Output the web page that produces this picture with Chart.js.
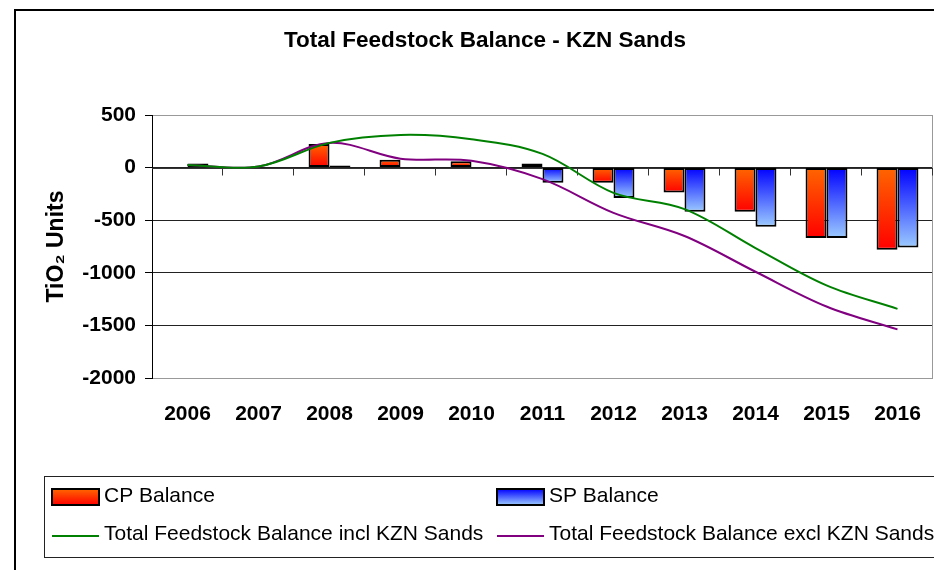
<!DOCTYPE html>
<html>
<head>
<meta charset="utf-8">
<script src="https://cdn.jsdelivr.net/npm/chart.js@4.4.1/dist/chart.umd.min.js"></script>
<style>
  html, body { margin: 0; padding: 0; background: #fff; overflow: hidden; }
  #frame { position: absolute; left: 14px; top: 9px; width: 960px; height: 620px; border: 2px solid #000; }
  #myChart { position: absolute; left: 0; top: 0; }
</style>
</head>
<body>
<div id="frame"></div>
<canvas id="myChart" width="934" height="570"></canvas>
<script>
// dados
const anos = ['2006', '2007', '2008', '2009', '2010', '2011', '2012', '2013', '2014', '2015', '2016'];
const cpBalance = [0, 0, 225, 75, 60, 40, -145, -237, -420, -670, -780];
const spBalance = [38, 0, 20, 0, 0, -145, -290, -420, -562, -670, -760];
const inclKzn = [25, 10, 235, 310, 270, 130, -240, -395, -765, -1120, -1343];
const exclKzn = [25, 10, 235, 85, 65, -110, -430, -650, -990, -1320, -1538];
const yTicks = [500, 0, -500, -1000, -1500, -2000];

const fonte = "'Liberation Sans', Arial, sans-serif";
const cores = {
    cp: ['#FF6600', '#FF0000'],
    sp: ['#0000FF', '#9CCBFF'],
    incl: '#008000',
    excl: '#800080'
};

// gradiente vertical de cada barra (topo -> base)
function gradiente(ctx, par) {
    const chart = ctx.chart;
    if (!chart.chartArea || ctx.type !== 'data') return par[0];
    const y = chart.scales.y;
    const p0 = y.getPixelForValue(0);
    const p1 = y.getPixelForValue(ctx.raw);
    const topo = Math.min(p0, p1), base = Math.max(p0, p1);
    if (base - topo < 1) return par[0];
    const g = chart.ctx.createLinearGradient(0, topo, 0, base);
    g.addColorStop(0, par[0]);
    g.addColorStop(1, par[1]);
    return g;
}

// eixo no zero com marcas de categoria + borda da área do gráfico
const eixoZero = {
    id: 'eixoZero',
    beforeDatasetsDraw(chart) {
        const { ctx, chartArea: a, scales: { x, y } } = chart;
        ctx.save();
        ctx.strokeStyle = '#999';
        ctx.lineWidth = 1;
        ctx.beginPath();
        ctx.moveTo(a.right - 0.5, a.top);
        ctx.lineTo(a.right - 0.5, a.bottom);
        ctx.stroke();

        const y0 = Math.round(y.getPixelForValue(0)) + 0.5;
        ctx.strokeStyle = '#333';
        ctx.beginPath();
        ctx.moveTo(a.left, y0);
        ctx.lineTo(a.right, y0);
        const passo = (a.right - a.left) / anos.length;
        for (let i = 1; i <= anos.length; i++) {
            const xb = Math.round(a.left + passo * i) - 0.5;
            ctx.moveTo(xb, y0);
            ctx.lineTo(xb, y0 + 7);
        }
        ctx.stroke();
        ctx.restore();
    }
};

// legenda em 2 colunas, como no original
const legenda = {
    id: 'legenda',
    afterDraw(chart) {
        const ctx = chart.ctx;
        ctx.save();
        ctx.strokeStyle = '#222';
        ctx.lineWidth = 1;
        ctx.strokeRect(44.5, 476.5, 960, 81);

        const colX = [52, 497];
        const linhaY = [497, 535];
        ctx.font = '21px ' + fonte;
        ctx.textBaseline = 'middle';
        ctx.fillStyle = '#000';

        chart.data.datasets.forEach((ds, i) => {
            const cx = colX[i % 2];
            const cy = linhaY[Math.floor(i / 2)];
            if (ds.type === 'bar') {
                const par = ds.label === 'CP Balance' ? cores.cp : cores.sp;
                const g = ctx.createLinearGradient(0, cy - 8, 0, cy + 8);
                g.addColorStop(0, par[0]);
                g.addColorStop(1, par[1]);
                ctx.fillStyle = g;
                ctx.fillRect(cx, cy - 8, 47, 16);
                ctx.strokeStyle = '#000';
                ctx.lineWidth = 2;
                ctx.strokeRect(cx, cy - 8, 47, 16);
            } else {
                ctx.strokeStyle = ds.borderColor;
                ctx.lineWidth = 2;
                ctx.beginPath();
                ctx.moveTo(cx, cy + 1);
                ctx.lineTo(cx + 47, cy + 1);
                ctx.stroke();
            }
            ctx.fillStyle = '#000';
            ctx.fillText(ds.label, cx + 52, cy - 1);
        });
        ctx.restore();
    }
};

const data = {
    labels: anos,
    datasets: [
        {
            type: 'bar',
            label: 'CP Balance',
            data: cpBalance,
            backgroundColor: (c) => gradiente(c, cores.cp),
            borderColor: '#000',
            borderWidth: 2,
            borderSkipped: false,
            categoryPercentage: 0.59,
            barPercentage: 1,
            order: 2
        },
        {
            type: 'bar',
            label: 'SP Balance',
            data: spBalance,
            backgroundColor: (c) => gradiente(c, cores.sp),
            borderColor: '#000',
            borderWidth: 2,
            borderSkipped: false,
            categoryPercentage: 0.59,
            barPercentage: 1,
            order: 2
        },
        {
            type: 'line',
            label: 'Total Feedstock Balance incl KZN Sands',
            data: inclKzn,
            borderColor: cores.incl,
            borderWidth: 2,
            pointRadius: 0,
            tension: 0.35,
            fill: false,
            order: 1
        },
        {
            type: 'line',
            label: 'Total Feedstock Balance excl KZN Sands',
            data: exclKzn,
            borderColor: cores.excl,
            borderWidth: 2,
            pointRadius: 0,
            tension: 0.35,
            fill: false,
            order: 1
        }
    ]
};

const config = {
    type: 'bar',
    data: data,
    options: {
        responsive: false,
        animation: false,
        devicePixelRatio: 1,
        layout: { padding: { left: 37, right: 1, top: 0, bottom: 143 } },
        plugins: {
            legend: { display: false },
            tooltip: { enabled: false },
            title: {
                display: true,
                text: 'Total Feedstock Balance - KZN Sands',
                color: '#000',
                font: { family: fonte, size: 22.5, weight: 'bold' },
                padding: { top: 27, bottom: 61 }
            }
        },
        scales: {
            x: {
                grid: { display: false, drawTicks: false },
                border: { display: false },
                ticks: {
                    color: '#000',
                    font: { family: fonte, size: 21, weight: 'bold' },
                    padding: 24,
                    maxRotation: 0,
                    autoSkip: false
                },
                afterFit(scale) {
                    scale.height = 49;
                    scale.paddingLeft = 0;
                    scale.paddingRight = 0;
                }
            },
            y: {
                min: Math.min(...yTicks),
                max: Math.max(...yTicks),
                afterBuildTicks(scale) {
                    scale.ticks = yTicks.map(v => ({ value: v }));
                },
                grid: {
                    color: (c) => (c.tick && (c.tick.value === 500 || c.tick.value === -2000)) ? '#999' : '#222',
                    tickColor: '#000',
                    tickLength: 7
                },
                border: { color: '#000', width: 1 },
                ticks: {
                    color: '#000',
                    font: { family: fonte, size: 21, weight: 'bold' },
                    padding: 9,
                    callback: (v) => String(v)
                },
                title: {
                    display: true,
                    text: 'TiO₂ Units',
                    color: '#000',
                    font: { family: fonte, size: 23, weight: 'bold' },
                    padding: { top: 6, bottom: 0 }
                },
                afterFit(scale) { scale.width = 115; }
            }
        }
    },
    plugins: [eixoZero, legenda]
};

new Chart(document.getElementById('myChart'), config);
</script>
</body>
</html>
